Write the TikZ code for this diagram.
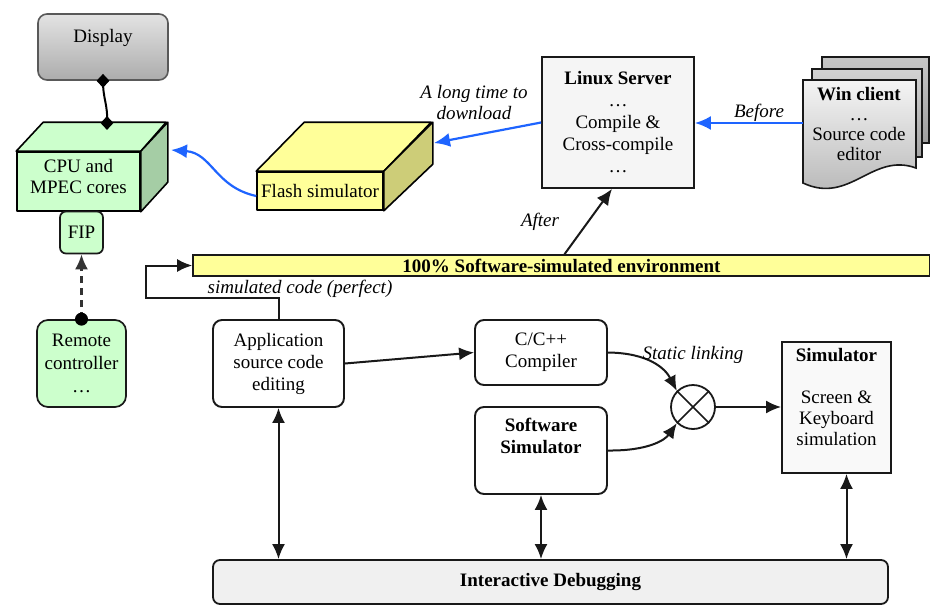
\documentclass[tikz,border=0pt]{standalone}
\usepackage{fontspec}
\setmainfont{Liberation Serif}
\usetikzlibrary{arrows.meta,shapes.geometric,calc}
\definecolor{grn}{RGB}{204,255,204}
\definecolor{grnside}{RGB}{165,205,165}
\definecolor{ylw}{RGB}{255,255,153}
\definecolor{ylwside}{RGB}{205,205,120}
\definecolor{blu}{RGB}{30,100,255}
\definecolor{ln}{RGB}{25,25,25}
\tikzset{
  txt/.style={font=\fontsize{19}{21}\selectfont, align=center, inner sep=0pt},
  itl/.style={font=\fontsize{19}{21}\selectfont\itshape, align=center, inner sep=0pt},
  rbox/.style={draw=ln, line width=1.9pt, rounded corners=9pt, fill=white, font=\fontsize{19}{22}\selectfont, align=center, inner sep=0pt},
  sbox/.style={draw=ln, line width=1.8pt, fill=gray!8, font=\fontsize{19}{21}\selectfont, align=center, inner sep=0pt},
  face/.style={draw=black, line width=1.6pt, line join=round},
  arr/.style={draw=ln, line width=2pt, -{Latex[length=15pt,width=13pt]}},
  darr/.style={draw=ln, line width=2pt, {Latex[length=15pt,width=13pt]}-{Latex[length=15pt,width=13pt]}},
  barr/.style={draw=blu, line width=2.2pt, -{Latex[length=16pt,width=14pt]}},
}
\begin{document}
\begin{tikzpicture}[x=1pt,y=-1pt]
\useasboundingbox[fill=white] (0,0) rectangle (930,608);

% Display
\node[draw=gray!70!black, line width=1.6pt, rounded corners=9pt, minimum width=130pt, minimum height=66pt,
      top color=gray!22, bottom color=gray!65] (disp) at (103,47) {};
\node[txt] (disptxt) at (103,38) {Display};

% CPU 3D box
\node[face, fill=grn, minimum width=123pt, minimum height=59pt, inner sep=0pt] (cpu) at (78.5,181.5) {};
\draw[face, fill=grn] (cpu.north west) -- ++(27,-29) -- ++(123,0) -- (cpu.north east) -- cycle;
\draw[face, fill=grnside] (cpu.north east) -- ++(27,-29) -- ++(0,60) -- (cpu.south east) -- cycle;
\node[txt] (cputxt) at (78.5,176) {CPU and\\MPEC cores};
\coordinate (cputop) at (107,123);
\coordinate (cpuin) at (171,150);

% Display - CPU connector
\draw[line width=2pt, black] (disp.south) .. controls (103,100) and (108,104) .. (cputop);
\node[diamond, fill=black, inner sep=0pt, minimum width=13pt, minimum height=14pt] (dia1) at (disp.south) {};
\node[diamond, fill=black, inner sep=0pt, minimum width=13pt, minimum height=14pt] (dia2) at (cputop) {};

% FIP
\node[draw=ln, line width=1.7pt, fill=grn, rounded corners=6pt, minimum width=43pt, minimum height=42pt, txt] (fip) at (81.5,232.5) {FIP};

% Remote controller
\node[draw=ln, line width=1.7pt, fill=grn, rounded corners=11pt, minimum width=89pt, minimum height=87pt, font=\fontsize{19}{23}\selectfont, align=center, inner sep=0pt] (remote) at (81.5,363.5) {Remote\\controller\\\dots};
\draw[line width=2.2pt, gray!40!black, dash pattern=on 7pt off 5pt, -{Latex[length=15pt,width=13pt]}] (remote.north) -- (fip.south);
\fill[black] (remote.north) circle (6.5pt);

% Flash simulator 3D box
\node[face, fill=ylw, minimum width=126pt, minimum height=38pt, inner sep=0pt, txt] (flash) at (320,191) {Flash simulator};
\draw[face, fill=ylw] (flash.north west) -- ++(48,-49) -- ++(127,0) -- (flash.north east) -- cycle;
\draw[face, fill=ylwside] (flash.north east) -- ++(49,-49) -- ++(0,42) -- (flash.south east) -- cycle;
\coordinate (flashin) at (434,143);

% blue arrow flash -> cpu
\draw[barr] ([yshift=-5pt]flash.west) .. controls (215,187) and (212,153) .. (cpuin);

% Linux server
\node[sbox, minimum width=152pt, minimum height=131pt, font=\fontsize{19}{22}\selectfont] (linux) at (618,122.5)
  {\textbf{Linux Server}\\\dots\\Compile \&\\Cross-compile\\\dots};
\draw[barr] (linux.west) -- (flashin);
\node[itl] (dl) at (474,103) {A long time to\\download};

% Win client stack
\draw[draw=ln, line width=1.6pt, top color=gray!45, bottom color=gray!75] (822,57) rectangle (929,143);
\draw[draw=ln, line width=1.6pt, top color=gray!35, bottom color=gray!70] (812,69) rectangle (922,157);
\draw[draw=ln, line width=1.6pt, top color=gray!8, bottom color=gray!60]
  (803,80) -- (916,80) -- (916,168) .. controls (872,152) and (850,205) .. (803,183) -- cycle;
\node[txt, font=\fontsize{19}{20}\selectfont] (win) at (859,124) {\textbf{Win client}\\\dots\\Source code\\editor};
\coordinate (winw) at (803,123);
\draw[barr] (winw) -- (linux.east |- winw);
\node[itl] (before) at (759,113) {Before};

% 100% bar
\node[draw=ln, line width=1.6pt, fill=ylw, minimum width=737pt, minimum height=21pt, inner sep=0pt,
      font=\fontsize{19}{21}\selectfont\bfseries] (bar) at (561.5,265.5) {100\% Software-simulated environment};
\draw[line width=2pt, ln, -{Latex[length=16pt,width=14pt]}] ([xshift=3pt]bar.north) -- ([xshift=-6pt]linux.south);
\node[itl] (after) at (540,222) {After};

% Application box
\node[rbox, minimum width=131pt, minimum height=87pt] (app) at (278.5,363.5) {Application\\source code\\editing};
\draw[arr] (app.north) -- (app.north |- 0,298) -- (146,298) -- (146,265.5) -- (bar.west);
\node[itl] (simcode) at (300,289) {simulated code (perfect)};

% Compiler & software simulator
\node[rbox, minimum width=132pt, minimum height=65pt] (comp) at (541,352.5) {C/C++\\Compiler};
\node[rbox, minimum width=132pt, minimum height=87pt, font=\fontsize{19}{22}\selectfont\bfseries] (sw) at (541,450.5) {Software\\Simulator\\[8pt]};
\draw[arr] (app.east) -- (comp.west);

% cross circle
\node[circle, draw=ln, line width=1.8pt, minimum size=44pt, inner sep=0pt] (cross) at (693,407) {};
\draw[line width=1.5pt, ln] (cross.north west) -- (cross.south east);
\draw[line width=1.5pt, ln] (cross.north east) -- (cross.south west);
\draw[arr] (comp.east) .. controls (648,353) and (665,368) .. (cross.north west);
\draw[arr] (sw.east) .. controls (648,451) and (665,440) .. (cross.south west);
\node[itl] (static) at (693,355) {Static linking};

% Simulator
\node[sbox, minimum width=109pt, minimum height=131pt, fill=gray!5] (sim) at (836.5,407.5) {};
\node[txt] (simtxt) at (836.5,397) {\textbf{Simulator}\\[21pt]Screen \&\\Keyboard\\simulation};
\draw[arr] (cross.east) -- (sim.west |- cross.east);

% Interactive debugging
\node[draw=ln, line width=1.8pt, rounded corners=7pt, fill=gray!12, minimum width=675pt, minimum height=44pt,
      inner sep=0pt, font=\fontsize{19}{21}\selectfont\bfseries] (dbg) at (550.5,582) {Interactive Debugging};
\draw[darr] (app.south) -- (app.south |- dbg.north);
\draw[darr] (sw.south) -- (sw.south |- dbg.north);
\draw[darr] ([xshift=10pt]sim.south) -- ([xshift=10pt]sim.south |- dbg.north);
\end{tikzpicture}
\end{document}
